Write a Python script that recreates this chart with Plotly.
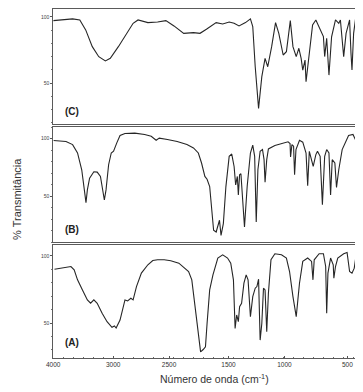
import numpy as np
import plotly.graph_objects as go

# x-axis tick labels (broken/compressed wavenumber axis)
TICK_WN = [4000, 3000, 2500, 1500, 1000, 500]
TICK_TEXT = ["4000", "3000", "2500", "1500", "1000", "500"]
TICK_SLOT = [0.0, 1.02, 1.97, 2.98, 3.93, 5.0]

# Spectrum (C)
c_wn = [4000, 3677, 3557, 3459, 3349, 3241, 3131, 3049, 2954, 2895, 2822, 2778, 2690, 2603, 2529,
        2418, 2254, 2090, 1980, 1872, 1708, 1598, 1494, 1450, 1406, 1348, 1304, 1283, 1261, 1231,
        1202, 1173, 1149, 1114, 1079, 1050, 1011, 984, 966, 953, 932, 906, 885, 867, 854, 836, 828,
        802, 776, 750, 711, 690, 680, 664, 646, 625, 594, 568, 555, 541, 529, 510, 482, 471, 463,
        450, 435]
c_t = [97.2, 98.5, 97.7, 90.2, 77.5, 69.9, 66.7, 68.7, 77.5, 85.1, 95.2, 97.7, 95.7, 96.2, 97.2,
       93.2, 87.6, 88.1, 87.6, 90.7, 95.7, 94.7, 96.2, 95.2, 93.2, 95.7, 98.5, 92.7, 62.3, 30.8,
       54.8, 68.7, 62.3, 77.5, 95.7, 87.6, 71.2, 73.7, 88.9, 97.2, 77.5, 70.0, 76.3, 68.7, 59.8, 67.4, 51.0,
       75.0, 93.9, 97.7, 88.9, 85.1, 70.0, 83.8, 56.0, 85.0, 97.7, 95.2, 97.7, 82.6, 70.0, 87.6, 97.7, 72.5, 59.8,
       87.6, 98.3]

# Spectrum (B)
b_wn = [3995, 3787, 3677, 3595, 3525, 3475, 3454, 3431, 3394, 3323, 3267, 3213, 3169, 3148, 3120,
        3077, 3033, 2997, 2968, 2939, 2895, 2807, 2719, 2660, 2616, 2588, 2515, 2364, 2200, 2090,
        2008, 1954, 1898, 1861, 1817, 1779, 1751, 1708, 1680, 1652, 1626, 1587, 1544, 1494, 1471,
        1450, 1436, 1421, 1412, 1401, 1389, 1377, 1357, 1333, 1304, 1283, 1266, 1252, 1237, 1217,
        1196, 1182, 1173, 1158, 1143, 1085, 1026, 971, 955, 951, 940, 927, 919, 908, 880, 854, 828,
        815, 802, 784, 771, 750, 737, 716, 698, 680, 664, 646, 633, 620, 599, 586, 568, 541, 490,
        455, 430]
b_t = [98.2, 97.4, 94.7, 87.4, 72.8, 55.3, 44.2, 55.3, 65.5, 71.1, 70.8, 67.0, 55.3, 46.5, 55.3,
       77.2, 87.4, 88.9, 96.2, 102.6, 104.4, 104.7, 103.5, 102.0, 98.5, 100.3, 99.1, 97.4, 94.7, 91.8,
       87.4, 78.7, 67.0, 64.6, 58.2, 31.9, 20.2, 18.7, 23.1, 28.9, 15.8, 26.0, 58.2, 84.5, 86.5,
       75.7, 59.6, 67.0, 50.9, 68.4, 69.3, 52.3, 23.1, 58.2, 87.4, 94.2, 84.5, 27.5, 72.8, 88.9,
       90.4, 81.6, 62.0, 81.6, 90.9, 93.9, 95.6, 97.1, 95.6, 83.9, 94.7, 93.3, 68.4, 90.4, 98.5, 96.8, 87.4,
       59.0, 88.9, 80.1, 75.7, 86.0, 88.9, 84.5, 42.5, 84.5, 90.4, 87.4, 50.9, 81.6, 78.7, 57.5, 72.8, 90.4, 102.6,
       103.5, 97.7]

# Spectrum (A)
a_wn = [3979, 3841, 3705, 3651, 3595, 3513, 3431, 3377, 3323, 3267, 3185, 3103, 3021, 2989, 2974,
        2939, 2895, 2871, 2842, 2822, 2792, 2748, 2690, 2646, 2603, 2544, 2472, 2336, 2226, 2172,
        2118, 2062, 2008, 1970, 1926, 1888, 1861, 1817, 1762, 1680, 1598, 1516, 1480, 1456, 1441,
        1427, 1412, 1401, 1383, 1362, 1342, 1325, 1304, 1283, 1261, 1246, 1231, 1217, 1202, 1187,
        1173, 1158, 1143, 1120, 1085, 1026, 984, 959, 932, 919, 906, 893, 880, 854, 815, 784, 773,
        763, 724, 690, 672, 664, 654, 633, 612, 607, 594, 576, 529, 502, 482, 463, 445, 430]
a_t = [90.0, 90.8, 92.0, 89.6, 82.1, 74.6, 67.2, 64.7, 67.2, 64.7, 57.2, 51.0, 46.8, 47.8, 46.3,
       52.2, 67.2, 66.4, 68.4, 67.2, 77.1, 87.1, 93.3, 96.5, 97.0, 97.0, 96.3, 94.5, 90.0, 88.3,
       82.1, 62.2, 39.8, 28.6, 30.3, 32.3, 49.7, 74.6, 85.8, 98.3, 100.7, 98.3, 94.5, 82.1, 46.0,
       56.0, 51.0, 62.2, 64.7, 79.6, 85.8, 82.1, 54.7, 69.6, 75.9, 77.1, 82.6, 37.3, 49.7, 75.9,
       74.6, 43.5, 72.1, 97.0, 101.5, 100.7, 98.3, 88.3, 69.6, 62.2, 54.7, 67.2, 79.6, 95.8, 98.3, 95.8, 82.1,
       97.0, 101.5, 101.5, 92.0, 57.2, 87.1, 98.3, 93.3, 83.3, 92.0, 98.3, 101.5, 102.5, 88.3, 87.1, 90.8, 100.7]

Y_RANGES = {"C": [19, 106], "B": [10, 110], "A": [24, 108]}


def wn_to_slot(w):
    w = np.asarray(w, dtype=float)
    tw = np.array(TICK_WN[::-1], dtype=float)
    ts = np.array(TICK_SLOT[::-1], dtype=float)
    out = np.interp(w, tw, ts)
    slope = (TICK_SLOT[-1] - TICK_SLOT[-2]) / (TICK_WN[-2] - TICK_WN[-1])
    low = w < TICK_WN[-1]
    out[low] = TICK_SLOT[-1] + (TICK_WN[-1] - w[low]) * slope
    return out


# page is rendered with an 8px body margin, so the figure is sized/positioned to compensate
OFF = 8.0
FW = 355.0
FH = 384.0


def px(x):
    return (x - OFF) / FW


def py(y):
    return 1 - (y - OFF) / FH


x_dom = [px(47), px(356)]
doms = {
    "C": [py(124), py(9)],
    "B": [py(242), py(127)],
    "A": [py(358), py(245)],
}
x_range = [0, wn_to_slot([430])[0]]

fig = go.Figure()
series = [("C", c_wn, c_t, "x", "y"), ("B", b_wn, b_t, "x2", "y2"), ("A", a_wn, a_t, "x3", "y3")]
line_col = "#262626"
frame_col = "#5a5a5a"
for name, wn, t, xa, ya in series:
    fig.add_trace(go.Scatter(x=wn_to_slot(wn), y=t, mode="lines", xaxis=xa, yaxis=ya,
                             line=dict(color=line_col, width=1.1), showlegend=False,
                             hoverinfo="skip"))

common_y = dict(showgrid=False, zeroline=False, showline=True, linecolor=frame_col, linewidth=1,
                mirror=True, ticks="outside", ticklen=2, tickcolor="#555", tickwidth=1,
                tickvals=[50, 100], ticktext=["50", "100"],
                tickfont=dict(size=5, color="#444", family="Liberation Sans, Arial"),
                minor=dict(ticks="outside", ticklen=1.5, dtick=10, tickcolor="#777"))
common_x = dict(showgrid=False, zeroline=False, showline=True, linecolor=frame_col, linewidth=1,
                mirror=True, range=x_range, domain=x_dom, tickvals=TICK_SLOT)

layout = dict(
    width=int(FW), height=int(FH), margin=dict(l=0, r=0, t=0, b=0),
    paper_bgcolor="white", plot_bgcolor="white",
    xaxis=dict(common_x, anchor="y", showticklabels=False, ticks=""),
    xaxis2=dict(common_x, anchor="y2", showticklabels=False, ticks=""),
    xaxis3=dict(common_x, anchor="y3", ticktext=TICK_TEXT, ticks="inside", ticklen=2,
                tickcolor="#555", tickfont=dict(size=6.5, color="#333", family="Liberation Sans, Arial"),
                minor=dict(ticks="inside", ticklen=1.5, dtick=0.17, tickcolor="#666")),
    yaxis=dict(common_y, anchor="x", domain=doms["C"], range=Y_RANGES["C"]),
    yaxis2=dict(common_y, anchor="x2", domain=doms["B"], range=Y_RANGES["B"]),
    yaxis3=dict(common_y, anchor="x3", domain=doms["A"], range=Y_RANGES["A"]),
)
fig.update_layout(**layout)

lab_font = dict(size=10, color="#222", family="Liberation Sans, Arial")
for name, ya, yc in [("C", "y", 112), ("B", "y2", 229), ("A", "y3", 342)]:
    fig.add_annotation(text=f"<b>({name})</b>", xref="paper", yref="paper",
                       x=px(57), y=py(yc), xanchor="left", yanchor="middle", showarrow=False,
                       font=lab_font)

fig.add_annotation(text="Número de onda (cm<sup>-1</sup>)", xref="paper", yref="paper",
                   x=px(212), y=py(378), xanchor="center", yanchor="middle", showarrow=False,
                   font=dict(size=10.5, color="#333", family="Liberation Sans, Arial"))
fig.add_annotation(text="% Transmitância", xref="paper", yref="paper", textangle=-90,
                   x=px(10), y=py(199), xanchor="center", yanchor="middle", showarrow=False,
                   font=dict(size=11, color="#333", family="Liberation Sans, Arial"))

fig.write_html("out.html")
